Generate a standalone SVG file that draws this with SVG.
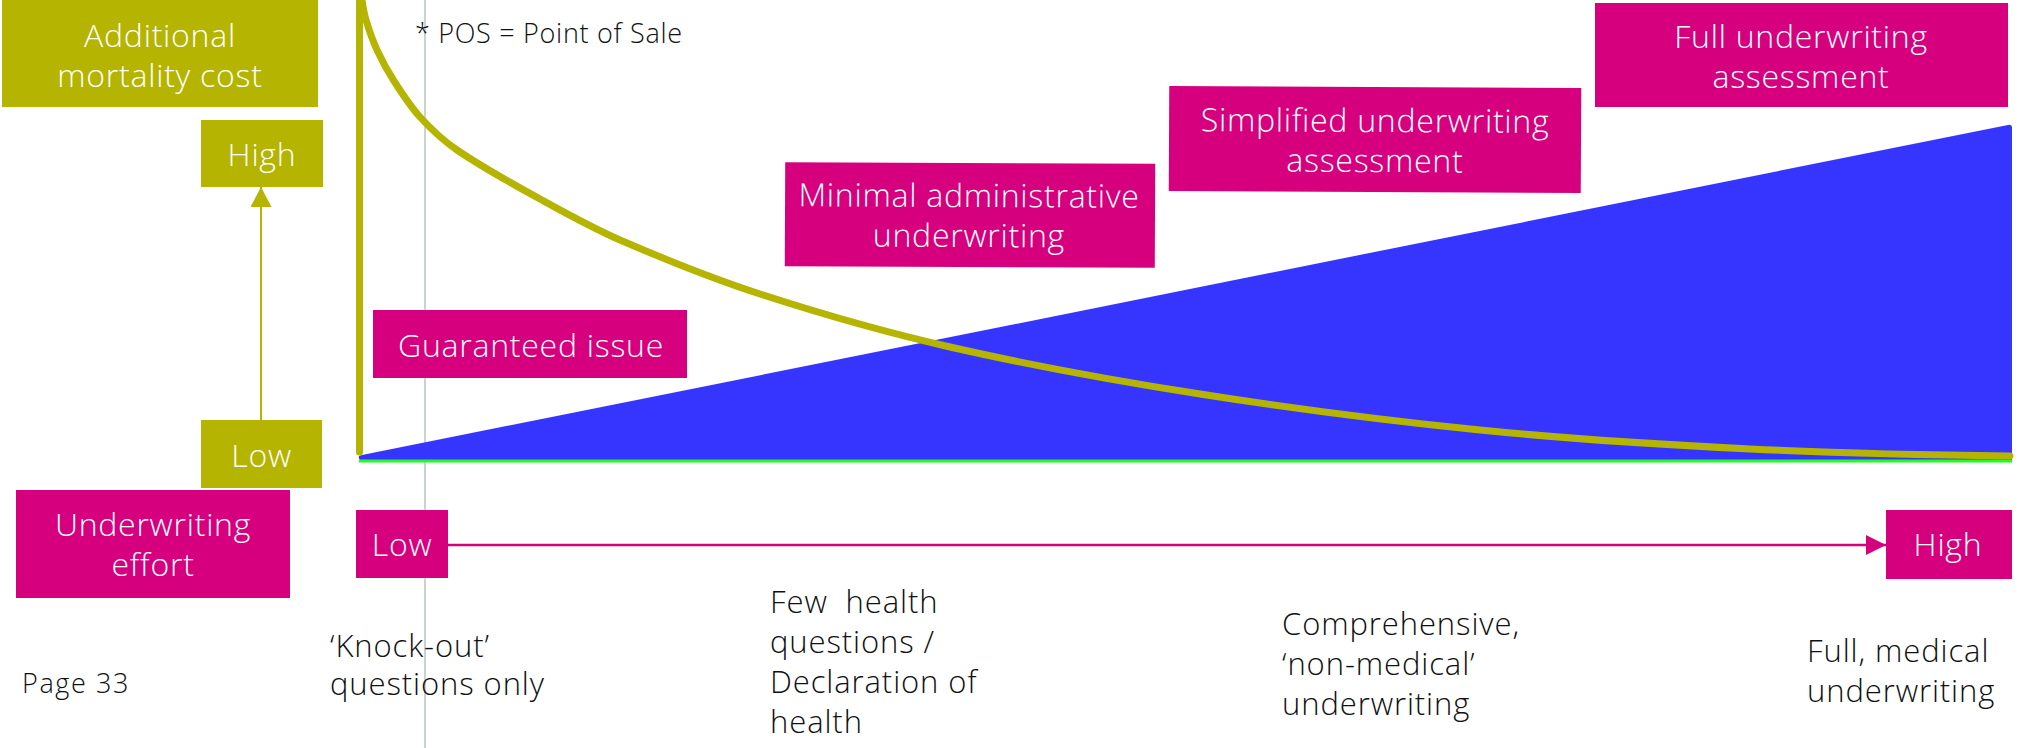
<svg xmlns="http://www.w3.org/2000/svg" width="2022" height="748" viewBox="0 0 2022 748">
<defs>
<style>
.olive{fill:#B5B400}
.mag{fill:#D6007E}
.wt{fill:#FFFFFF;font-family:"Open Sans","Liberation Sans",sans-serif;font-size:32px;font-weight:300;letter-spacing:0.75px;text-anchor:middle}
.bk{fill:#111111;font-family:"Open Sans","Liberation Sans",sans-serif;font-size:31px;font-weight:300;letter-spacing:0.9px;white-space:pre}
.sm{fill:#111111;font-family:"Open Sans","Liberation Sans",sans-serif;font-size:27px;font-weight:300;letter-spacing:0.7px;white-space:pre}
</style>
<marker id="arrOlive" markerUnits="userSpaceOnUse" markerWidth="22" markerHeight="22" refX="20" refY="10.5" orient="auto" viewBox="0 0 22 22">
<path d="M0,0 L20,10.5 L0,21 z" fill="#B5B400"/>
</marker>
<marker id="arrMag" markerUnits="userSpaceOnUse" markerWidth="22" markerHeight="22" refX="20" refY="10" orient="auto" viewBox="0 0 22 22">
<path d="M0,0 L20,10 L0,20 z" fill="#D6007E"/>
</marker>
</defs>
<rect width="2022" height="748" fill="#FFFFFF"/>

<g id="chart">
<line x1="425" y1="0" x2="425" y2="748" stroke="#CAD2D6" stroke-width="2"/>
<path d="M362,455 L2008,125 Q2012,124 2012,128 L2012,460 L362,460 Q358,460 359,456 z" fill="#3535FF"/>
<line x1="359" y1="461" x2="2012" y2="461" stroke="#1EFF1E" stroke-width="3"/>
<line x1="359.5" y1="0" x2="359.5" y2="452" stroke="#B5B400" stroke-width="7" stroke-linecap="round"/>
<path d="M362,0 C363,6.7 364.05,13.5 366,20 C369.1,30.3 372.5,40.3 377,50 C381.9,60.7 387.6,71.1 394,81 C402,93.5 410,106.1 420,117 C431.1,129.2 443.4,140.7 457,150 C483.5,168.1 511.9,183.5 540,199 C566.3,213.5 592.5,228.1 620,240 C665.9,259.8 712.4,278.6 760,294 C822.6,314.3 885.8,332.4 950,347 C1032.7,365.8 1116.2,380.9 1200,394 C1293,408.6 1386.4,420.6 1480,430 C1569.7,439 1659.9,444.6 1750,449 C1836.6,453.2 1923.3,455.1 2010,456" fill="none" stroke="#B5B400" stroke-width="7" stroke-linecap="round"/>
</g>

<g id="connectors">
<line x1="261" y1="420" x2="261" y2="187" stroke="#B5B400" stroke-width="2" marker-end="url(#arrOlive)"/>
<line x1="448" y1="545" x2="1886" y2="545" stroke="#D6007E" stroke-width="2.5" marker-end="url(#arrMag)"/>
</g>

<g id="additional-mortality-cost">
<rect class="olive" x="2" y="0" width="316" height="107"/>
<text class="wt" x="160" y="47">Additional</text>
<text class="wt" x="160" y="87">mortality cost</text>
</g>

<g id="mortality-high">
<rect class="olive" x="201" y="120" width="122" height="67"/>
<text class="wt" x="262" y="166">High</text>
</g>

<g id="mortality-low">
<rect class="olive" x="201" y="420" width="121" height="68"/>
<text class="wt" x="261.5" y="467">Low</text>
</g>

<g id="underwriting-effort">
<rect class="mag" x="16" y="490" width="274" height="108"/>
<text class="wt" x="153" y="536">Underwriting</text>
<text class="wt" x="153" y="576">effort</text>
</g>

<g id="effort-low">
<rect class="mag" x="356" y="510" width="92" height="68"/>
<text class="wt" x="402" y="556">Low</text>
</g>

<g id="effort-high">
<rect class="mag" x="1886" y="510" width="126" height="69"/>
<text class="wt" x="1948" y="556">High</text>
</g>

<g id="guaranteed-issue">
<rect class="mag" x="373" y="310" width="314" height="68"/>
<text class="wt" x="531" y="357">Guaranteed issue</text>
</g>

<g id="minimal-administrative" transform="rotate(0.25 970 215)">
<rect class="mag" x="785" y="163" width="370" height="104"/>
<text class="wt" x="969" y="207">Minimal administrative</text>
<text class="wt" x="969" y="247">underwriting</text>
</g>

<g id="simplified-underwriting" transform="rotate(0.28 1375 140)">
<rect class="mag" x="1169" y="87" width="412" height="105"/>
<text class="wt" x="1375" y="132">Simplified underwriting</text>
<text class="wt" x="1375" y="172">assessment</text>
</g>

<g id="full-underwriting">
<rect class="mag" x="1595" y="3" width="413" height="104"/>
<text class="wt" x="1801" y="48">Full underwriting</text>
<text class="wt" x="1801" y="88">assessment</text>
</g>

<g id="pos-note">
<text class="sm" x="415" y="43">* POS = Point of Sale</text>
</g>

<g id="page-number">
<text class="sm" x="22" y="693" style="letter-spacing:1.6px">Page 33</text>
</g>

<g id="label-knockout">
<text class="bk" x="330" y="657">‘Knock-out’</text>
<text class="bk" x="330" y="695">questions only</text>
</g>

<g id="label-few-health">
<text class="bk" x="770" y="613">Few  health</text>
<text class="bk" x="770" y="653">questions /</text>
<text class="bk" x="770" y="693">Declaration of</text>
<text class="bk" x="770" y="733">health</text>
</g>

<g id="label-comprehensive">
<text class="bk" x="1282" y="635">Comprehensive,</text>
<text class="bk" x="1282" y="675">‘non-medical’</text>
<text class="bk" x="1282" y="715">underwriting</text>
</g>

<g id="label-full-medical">
<text class="bk" x="1807" y="662">Full, medical</text>
<text class="bk" x="1807" y="702">underwriting</text>
</g>
</svg>
